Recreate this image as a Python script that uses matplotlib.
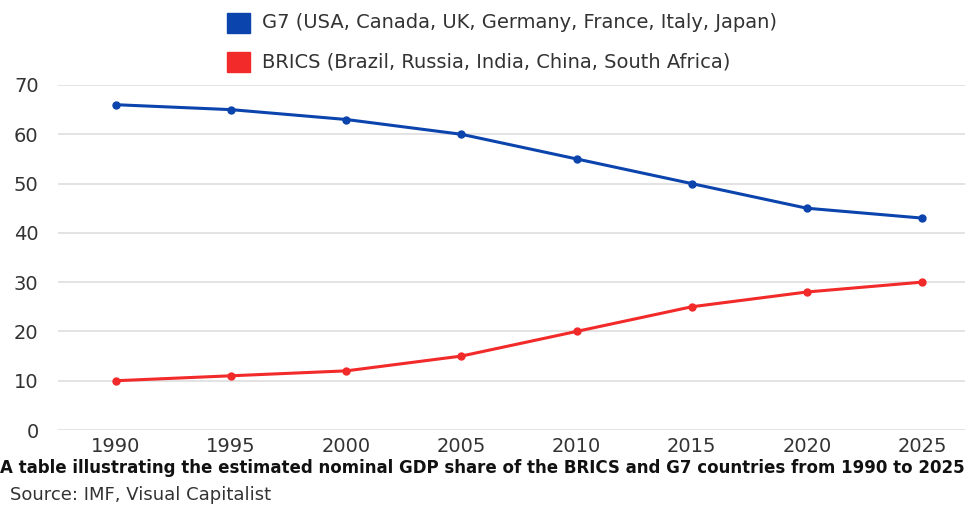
import matplotlib.pyplot as plt
from matplotlib.patches import Rectangle

years = [1990, 1995, 2000, 2005, 2010, 2015, 2020, 2025]
g7_share = [66, 65, 63, 60, 55, 50, 45, 43]
brics_share = [10, 11, 12, 15, 20, 25, 28, 30]
y_ticks = [0, 10, 20, 30, 40, 50, 60, 70]

g7_label = "G7 (USA, Canada, UK, Germany, France, Italy, Japan)"
brics_label = "BRICS (Brazil, Russia, India, China, South Africa)"
caption = "A table illustrating the estimated nominal GDP share of the BRICS and G7 countries from 1990 to 2025"
source = "Source: IMF, Visual Capitalist"

blue = "#0b44ad"
red = "#f22a2a"
txt = "#333333"

plt.rcParams['font.family'] = ['DejaVu Sans']

fig = plt.figure(figsize=(9.69, 5.05), dpi=100)
ax = fig.add_axes([58 / 969, 1 - 430 / 505, 907 / 969, 345 / 505])

ax.plot(years, g7_share, color=blue, lw=2.2, marker='o', ms=5, zorder=3)
ax.plot(years, brics_share, color=red, lw=2.2, marker='o', ms=5, zorder=3)

ax.set_xlim(1987.48, 2026.87)
ax.set_ylim(0, 70)
ax.set_xticks(years)
ax.set_yticks(y_ticks)
ax.grid(axis='y', color='#dedede', lw=1.2)
ax.set_axisbelow(True)
for s in ax.spines.values():
    s.set_visible(False)
ax.tick_params(length=0, labelsize=14, colors=txt)
ax.tick_params(axis='x', pad=5)
ax.tick_params(axis='y', pad=14)

# legend drawn by hand at top
for yy, col, lab in [(23, blue, g7_label), (62, red, brics_label)]:
    fig.patches.append(Rectangle((227 / 969, 1 - (yy + 10) / 505), 23 / 969, 20 / 505,
                                 transform=fig.transFigure, color=col))
    fig.text(262 / 969, 1 - yy / 505, lab, fontsize=14, color=txt, va='center')

fig.text(0.0, 1 - 468 / 505, caption, fontsize=12, fontweight='bold', color='#111111', va='center')
fig.text(10 / 969, 1 - 495 / 505, source, fontsize=13, color=txt, va='center')

fig.savefig("out.png", dpi=100)
